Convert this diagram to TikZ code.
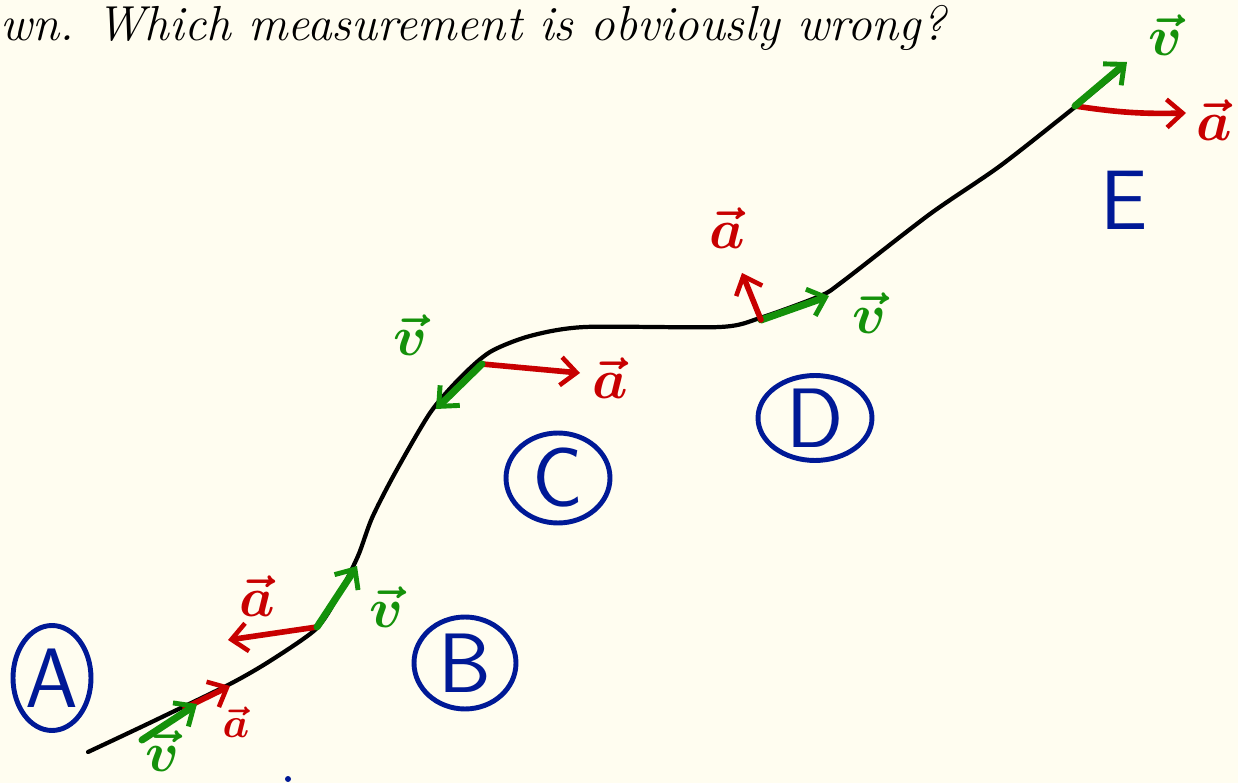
\documentclass[tikz,border=0pt]{standalone}
\usepackage{tikz}
\usetikzlibrary{arrows.meta}
\usetikzlibrary{shapes.geometric}
\definecolor{paper}{RGB}{255,253,240}
\definecolor{penred}{RGB}{200,0,0}
\definecolor{pengreen}{RGB}{20,145,10}
\definecolor{penblue}{RGB}{0,25,150}

\begin{document}
\begin{tikzpicture}[x=0.02cm, y=-0.02cm,
    curve/.style={line width=2.4pt, line cap=round, line join=round},
    vel/.style={draw=pengreen, line width=4pt, line cap=round, -{Straight Barb[length=9pt, width=16pt, line width=2.8pt]}},
    acc/.style={draw=penred, line width=3.2pt, line cap=round, -{Straight Barb[length=9pt, width=16pt, line width=2.6pt]}},
    vlabel/.style={text=pengreen, font=\boldmath, scale=3.2},
    alabel/.style={text=penred, font=\boldmath, scale=3.2},
    point/.style={ellipse, draw=penblue, line width=2.8pt, text=penblue, inner sep=0pt, font=\sffamily\fontsize{48}{54}\selectfont}]
    \useasboundingbox [fill=paper] (0,0) rectangle (1238,783);

    \node [anchor=west, font=\itshape\fontsize{28}{33}\selectfont] (question) at (-6,28) {wn. Which measurement is obviously wrong?};

    % the path
    \draw [curve] plot [smooth, tension=0.45] coordinates {(88,752) (120,737) (160,718) (230,684) (270,661) (316,629) (338,596) (358,556) (372,518) (395,473) (430,413) (460,378) (490,352) (530,336) (585,327) (720,327) (760,318) (820,296) (842,282) (930,214) (1000,166) (1075,107) (1120,70)};

    \node [point, minimum width=1.56cm, minimum height=2.1cm] (A) at (52,678) {A};
    \node [point, minimum width=2.04cm, minimum height=1.84cm] (B) at (465,663) {B};
    \node [point, minimum width=2.08cm, minimum height=1.8cm] (C) at (558,478) {C};
    \node [point, minimum width=2.28cm, minimum height=1.7cm] (D) at (815,418) {D};
    \node [text=penblue, font=\sffamily\fontsize{48}{54}\selectfont] (E) at (1124,200) {E};
    \fill [penblue] (288,779) circle (3);

    \coordinate (vA0) at (142,740);
    \coordinate (vA1) at (197,704);
    \coordinate (aA0) at (185,708);
    \coordinate (aA1) at (230,686);
    \coordinate (B0) at (317,627);
    \coordinate (aB1) at (228,640);
    \coordinate (vB1) at (357,566);
    \coordinate (C0) at (482,364);
    \coordinate (vC1) at (436,409);
    \coordinate (aC1) at (580,373);
    \coordinate (D0) at (761,320);
    \coordinate (aD1) at (742,273);
    \coordinate (vD1) at (829,296);
    \coordinate (E0) at (1075,106);
    \coordinate (vE1) at (1127,62);
    \coordinate (aE1) at (1186,113);

    \draw [acc] (aA0) -- (aA1);
    \draw [vel] (vA0) -- (vA1);
    \draw [acc] (B0) -- (aB1);
    \draw [vel] (B0) -- (vB1);
    \draw [acc] (C0) -- (aC1);
    \draw [vel] (C0) -- (vC1);
    \draw [vel] (D0) -- (vD1);
    \draw [acc] (D0) -- (aD1);
    \draw [acc] (E0) to [bend right=5] (aE1);
    \draw [vel] (E0) -- (vE1);

    \node [vlabel] (vAl) at (162,751) {$\vec{v}$};
    \node [alabel, scale=0.75] (aAl) at (236,722) {$\vec{a}$};
    \node [alabel] (aBl) at (257,596) {$\vec{a}$};
    \node [vlabel] (vBl) at (386,607) {$\vec{v}$};
    \node [vlabel] (vCl) at (410,335) {$\vec{v}$};
    \node [alabel] (aCl) at (610,378) {$\vec{a}$};
    \node [alabel] (aDl) at (727,228) {$\vec{a}$};
    \node [vlabel] (vDl) at (869,313) {$\vec{v}$};
    \node [vlabel] (vEl) at (1165,35) {$\vec{v}$};
    \node [alabel] (aEl) at (1214,120) {$\vec{a}$};
\end{tikzpicture}
\end{document}
